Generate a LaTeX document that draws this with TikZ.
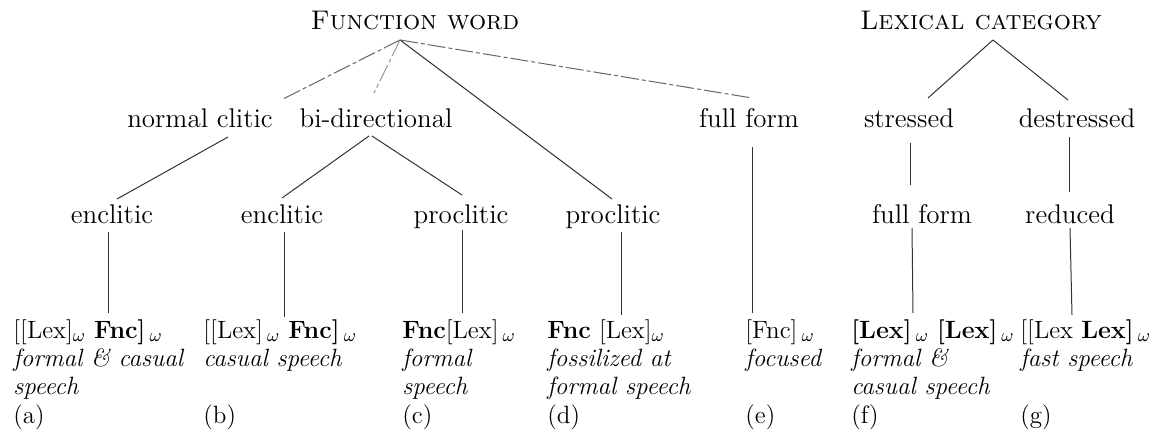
\documentclass[tikz,border=0pt]{standalone}
\usepackage{fontspec}
\usetikzlibrary{calc}
\newcommand{\wsb}{$_\omega$}
\begin{document}
\begin{tikzpicture}[x=0.5pt,y=-0.5pt,
  lbl/.style={inner sep=0pt, anchor=base, font=\fontsize{13.5}{16}\selectfont},
  col/.style={inner sep=0pt, anchor=base west, font=\fontsize{12.5}{14.2}\selectfont},
  branch/.style={line width=0.5pt, draw=black!80},
  broken/.style={branch, draw=black!60, dash pattern=on 9pt off 1.5pt on 2pt off 1.5pt}]
\useasboundingbox (0,0) rectangle (1162,445);
\fill[white] (0,0) rectangle (1162,445);

% top categories
\node[lbl] (fw) at (415,29) {\textsc{Function word}};
\node[lbl] (lc) at (981,29) {\textsc{Lexical category}};

% first split
\node[lbl] (nc)  at (200,127) {normal clitic};
\node[lbl] (bd)  at (376,127) {bi-directional};
\node[lbl] (ffe) at (749,127) {full form};
\node[lbl] (st)  at (909,127) {stressed};
\node[lbl] (ds)  at (1077,127) {destressed};

% second split
\node[lbl] (ea) at (112,223) {enclitic};
\node[lbl] (eb) at (282,223) {enclitic};
\node[lbl] (pc) at (461,223) {proclitic};
\node[lbl] (pd) at (613,223) {proclitic};
\node[lbl] (ff) at (922,223) {full form};
\node[lbl] (rd) at (1070,223) {reduced};

% resulting structures
\node[col] (ca) at (13,338) {\begin{tabular}[t]{@{}l@{}}
  [[Lex]\wsb\ \textbf{Fnc]}\,\wsb\\ \textit{formal \& casual}\\ \textit{speech}\\ (a)\end{tabular}};
\node[col] (cb) at (203,338) {\begin{tabular}[t]{@{}l@{}}
  [[Lex]\,\wsb\ \textbf{Fnc]}\,\wsb\\ \textit{casual speech}\\ \\ (b)\end{tabular}};
\node[col] (cc) at (402,338) {\begin{tabular}[t]{@{}l@{}}
  \textbf{Fnc}[Lex]\,\wsb\\ \textit{formal}\\ \textit{speech}\\ (c)\end{tabular}};
\node[col] (cd) at (547,338) {\begin{tabular}[t]{@{}l@{}}
  \textbf{Fnc} [Lex]\wsb\\ \textit{fossilized at}\\ \textit{formal speech}\\ (d)\end{tabular}};
\node[col] (ce) at (745,338) {\begin{tabular}[t]{@{}l@{}}
  [Fnc]\,\wsb\\ \textit{focused}\\ \\ (e)\end{tabular}};
\node[col] (cf) at (851,338) {\begin{tabular}[t]{@{}l@{}}
  \textbf{[Lex]}\,\wsb\ \textbf{[Lex]}\,\wsb\\ \textit{formal \&}\\ \textit{casual speech}\\ (f)\end{tabular}};
\node[col] (cg) at (1020,338) {\begin{tabular}[t]{@{}l@{}}
  [[Lex \textbf{Lex]}\,\wsb\\ \textit{fast speech}\\ \\ (g)\end{tabular}};

% branching points under the top categories
\coordinate (fwt) at ($(fw.base)+(-15,11)$);
\coordinate (lct) at ($(lc.base)+(12,11)$);

% function word branches
\draw[broken] (fwt) -- ($(nc.base)+(83,-28)$);
\draw[broken, draw=black!40] (fwt) -- ($(bd.base)+(-2,-34)$);
\draw[branch] (fwt) -- ($(pd.base)+(-1,-24)$);
\draw[broken] (fwt) -- ($(ffe.base)+(3,-29)$);

% lexical category branches
\draw[branch] (lct) -- ($(st.base)+(19,-29)$);
\draw[branch] (lct) -- ($(ds.base)+(-9,-27)$);

% second level branches
\draw[branch] ($(nc.base)+(28,10)$) -- ($(ea.base)+(5,-24)$);
\draw[branch] ($(bd.base)+(-7,9)$) -- ($(eb.base)+(0,-25)$);
\draw[branch] ($(bd.base)+(-4,9)$) -- ($(pc.base)+(1,-28)$);
\draw[branch] ($(st.base)+(1,16)$) -- ($(ff.base)+(-12,-38)$);
\draw[branch] ($(ds.base)+(-8,10)$) -- ($(rd.base)+(-1,-31)$);

% stems down to the structures
\draw[branch] ($(ea.base)+(-4,9)$) -- ($(ca.base west)+(95,-25)$);
\draw[branch] ($(eb.base)+(2,9)$) -- ($(cb.base west)+(81,-21)$);
\draw[branch] ($(pc.base)+(1,7)$) -- ($(cc.base west)+(60,-25)$);
\draw[branch] ($(pd.base)+(8,9)$) -- ($(cd.base west)+(74,-23)$);
\draw[branch] ($(ffe.base)+(3,20)$) -- ($(ce.base west)+(7,-25)$);
\draw[branch] ($(ff.base)+(-10,5)$) -- ($(cf.base west)+(62,-25)$);
\draw[branch] ($(rd.base)+(0,5)$) -- ($(cg.base west)+(52,-23)$);
\end{tikzpicture}
\end{document}
